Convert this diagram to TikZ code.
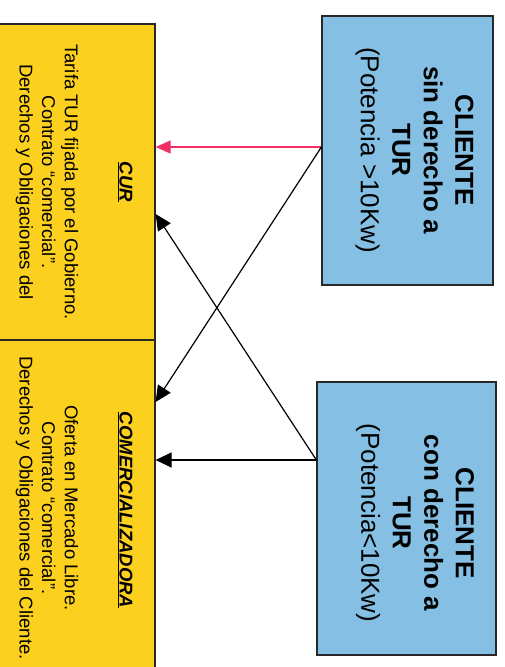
\documentclass[tikz,border=0pt]{standalone}
\usepackage{fontspec}
\setmainfont{Liberation Sans}
\usetikzlibrary{arrows.meta}
\definecolor{boxyellow}{RGB}{252,208,30}
\definecolor{boxblue}{RGB}{133,192,228}
\definecolor{arrowred}{RGB}{240,48,100}
\definecolor{edge}{RGB}{40,40,40}
\tikzset{
  ybox/.style={draw=edge, line width=1.2pt, fill=boxyellow, inner sep=0pt},
  bbox/.style={draw=edge, line width=1.2pt, fill=boxblue, inner sep=0pt},
  btext/.style={rotate=-90, align=center, inner sep=0pt, font=\fontsize{26}{31.5}\selectfont},
  ytext/.style={rotate=-90, align=center, inner sep=0pt, font=\fontsize{18.5}{22.7}\selectfont},
  conn/.style={line width=1.2pt, -{Triangle[length=16pt,width=15pt]}},
}
\begin{document}
\begin{tikzpicture}[x=1pt,y=-1pt]
\useasboundingbox (0,0) rectangle (504,667);
\clip (0,0) rectangle (504,667);
% yellow boxes
\node[ybox, minimum width=157pt, minimum height=316pt] (cur) at (76.5,182) {};
\node[ybox, minimum width=157pt, minimum height=350pt] (com) at (76.5,515) {};
% blue boxes
\node[bbox, minimum width=171pt, minimum height=269pt] (b1) at (407.5,150.5) {};
\node[bbox, minimum width=179pt, minimum height=273pt] (b2) at (406.5,518.5) {};
% texts
\node[ytext] (curt) at (125,182) {\textbf{\textit{\underline{CUR}}}};
\node[ytext] (curb) at (47,182) {Tarifa TUR fijada por el Gobierno.\\Contrato “comercial”.\\Derechos y Obligaciones del};
\node[ytext] (comt) at (125,510) {\textbf{\textit{\underline{COMERCIALIZADORA}}}};
\node[ytext] (comb) at (47,508) {Oferta en Mercado Libre.\\Contrato “comercial”.\\Derechos y Obligaciones del Cliente.};
\node[btext] (b1t) at (414.5,150) {\textbf{CLIENTE}\\\textbf{sin derecho a}\\\textbf{TUR}\\(Potencia >10Kw)};
\node[btext] (b2t) at (415,523) {\textbf{CLIENTE}\\\textbf{con derecho a}\\\textbf{TUR}\\(Potencia<10Kw)};
% connectors
\coordinate (p1) at ([yshift=3.5pt]b1.west);
\coordinate (p2) at ([yshift=58.5pt]b2.west);
\draw[conn, draw=arrowred, fill=arrowred, -{Triangle[length=15pt,width=13pt]}] (p1) -- (cur.east |- p1);
\draw[conn] (p1) -- ([yshift=113pt]com.east);
\draw[conn] (p2) -- ([yshift=-32pt]cur.east);
\draw[conn] (p2) -- (com.east |- p2);
\end{tikzpicture}
\end{document}
